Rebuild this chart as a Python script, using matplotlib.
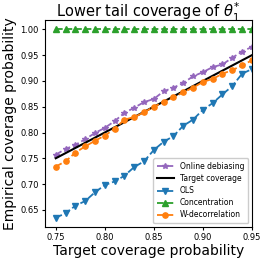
import numpy as np
import matplotlib
matplotlib.use('Agg')
import matplotlib.pyplot as plt

target = np.round(np.arange(0.75, 0.951, 0.01), 2)

online = [0.757, 0.768, 0.776, 0.787, 0.799, 0.809, 0.822, 0.838, 0.848, 0.859, 0.865,
          0.880, 0.887, 0.896, 0.909, 0.917, 0.927, 0.932, 0.945, 0.957, 0.966]
ols = [0.635, 0.643, 0.658, 0.667, 0.684, 0.698, 0.705, 0.716, 0.733, 0.744, 0.766,
       0.782, 0.793, 0.813, 0.825, 0.844, 0.857, 0.874, 0.890, 0.914, 0.923]
concentration = [1.0] * 21
wdecor = [0.734, 0.744, 0.761, 0.773, 0.784, 0.794, 0.807, 0.825, 0.830, 0.839, 0.850,
          0.859, 0.868, 0.878, 0.887, 0.898, 0.904, 0.914, 0.921, 0.930, 0.940]

fig = plt.figure(figsize=(2.66, 2.63), dpi=100)
ax = fig.add_axes([0.169, 0.137, 0.778, 0.787])

ax.plot(target, online, '--*', color='tab:purple', lw=1.3, ms=4, label='Online debiasing')
ax.plot(target, target, '-', color='black', lw=1.5, label='Target coverage')
ax.plot(target, ols, '--v', color='tab:blue', lw=1.3, ms=3.8, label='OLS')
ax.plot(target, concentration, '--^', color='tab:green', lw=1.3, ms=3.8, label='Concentration')
ax.plot(target, wdecor, '--o', color='tab:orange', lw=1.3, ms=3.8, label='W-decorrelation')

ax.set_xlim(0.739, 0.95)
ax.set_xticks([0.75, 0.80, 0.85, 0.90, 0.95])
ax.tick_params(labelsize=6, length=2.5, width=0.8, pad=2)
ax.set_xlabel('Target coverage probability', fontsize=10, labelpad=1)
ax.set_ylabel('Empirical coverage probability', fontsize=10, labelpad=2)
# title placed by baseline so the sub/superscript does not push it up
ax.text(0.5, 1.014, r'Lower tail coverage of $\theta_1^{*}$', fontsize=10.5,
        ha='center', va='baseline', transform=ax.transAxes)
ax.legend(loc='lower right', fontsize=5.5, handlelength=2.2, borderpad=0.5,
          labelspacing=0.4, framealpha=1)

fig.savefig('out.png', dpi=100)
